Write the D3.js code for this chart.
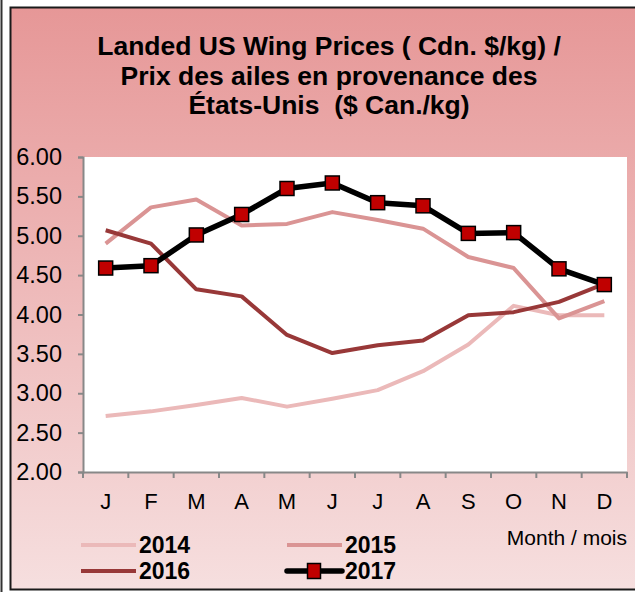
<!DOCTYPE html>
<html>
<head>
<meta charset="utf-8">
<script src="https://cdn.jsdelivr.net/npm/d3@7/dist/d3.min.js"></script>
<style>
  body { margin: 0; background: #fff; }
  text { font-family: "Liberation Sans", Arial, sans-serif; white-space: pre; }
</style>
</head>
<body>
<svg id="chart" width="635" height="592"></svg>
<script>
  // data
  var months = ['J', 'F', 'M', 'A', 'M', 'J', 'J', 'A', 'S', 'O', 'N', 'D'];
  var yTicks = [2.0, 2.5, 3.0, 3.5, 4.0, 4.5, 5.0, 5.5, 6.0];
  var titleLines = ['Landed US Wing Prices ( Cdn. $/kg) /', 'Prix des ailes en provenance des', '\u00c9tats-Unis  ($ Can./kg)'];
  var v2014 = [2.71, 2.77, 2.85, 2.94, 2.83, 2.93, 3.04, 3.28, 3.62, 4.11, 3.99, 3.99];
  var v2015 = [4.90, 5.36, 5.46, 5.13, 5.15, 5.30, 5.20, 5.09, 4.73, 4.59, 3.95, 4.17];
  var v2016 = [5.07, 4.90, 4.32, 4.23, 3.74, 3.51, 3.61, 3.67, 3.99, 4.03, 4.16, 4.39];
  var v2017 = [4.59, 4.62, 5.01, 5.27, 5.60, 5.67, 5.42, 5.38, 5.03, 5.04, 4.58, 4.38];

  var series = [
    { name: '2014', values: v2014, color: '#ebb9b9', width: 4 },
    { name: '2015', values: v2015, color: '#da9494', width: 4 },
    { name: '2016', values: v2016, color: '#983838', width: 4 },
    { name: '2017', values: v2017, color: '#000000', width: 5.5, marker: true }
  ];

  var svg = d3.select('#chart');

  function label(x0, y0, str, size, opts) {
    opts = opts || {};
    return svg.append('text')
      .attr('x', x0).attr('y', y0)
      .attr('text-anchor', opts.anchor || 'start')
      .style('font-size', size + 'px')
      .style('font-weight', opts.bold ? 'bold' : 'normal')
      .attr('fill', '#000')
      .text(str);
  }

  // background gradient
  var grad = svg.append('defs').append('linearGradient')
    .attr('id', 'bg').attr('x1', 0).attr('y1', 0).attr('x2', 0).attr('y2', 1);
  grad.append('stop').attr('offset', '0%').attr('stop-color', '#e69797');
  grad.append('stop').attr('offset', '35%').attr('stop-color', '#ecb0b0');
  grad.append('stop').attr('offset', '100%').attr('stop-color', '#f6dfdf');

  svg.append('line').attr('x1', 1.5).attr('x2', 1.5).attr('y1', 0).attr('y2', 592)
    .attr('stroke', '#333').attr('stroke-width', 2);
  svg.append('rect').attr('x', 10.5).attr('y', 7.5).attr('width', 640).attr('height', 582)
    .attr('fill', 'url(#bg)').attr('stroke', '#1a1a1a').attr('stroke-width', 2);

  var plot = { left: 83, right: 627, top: 157, bottom: 472 };

  var x = d3.scaleBand().domain(d3.range(12)).range([plot.left, plot.right]);
  var y = d3.scaleLinear().domain([2, 6]).range([plot.bottom, plot.top]);

  svg.append('rect').attr('x', plot.left).attr('y', plot.top)
    .attr('width', plot.right - plot.left).attr('height', plot.bottom - plot.top)
    .attr('fill', '#fff');

  // title
  titleLines.forEach((t, i) => {
    label(329, 55 + i * 29.5, t, 26.5, { anchor: 'middle', bold: true });
  });

  // y axis
  var yAxis = svg.append('g').attr('transform', 'translate(' + plot.left + ',0)')
    .call(d3.axisLeft(y).tickValues(yTicks).tickFormat('').tickSize(5));
  yAxis.select('.domain').attr('stroke', '#888').attr('stroke-width', 2);
  yAxis.selectAll('.tick line').attr('stroke', '#888').attr('stroke-width', 2);
  yTicks.forEach(v => {
    label(62, y(v) + 8, d3.format('.2f')(v), 23.5, { anchor: 'end' });
  });

  // x axis
  var xAxis = svg.append('g').attr('transform', 'translate(0,' + plot.bottom + ')')
    .call(d3.axisBottom(x).tickValues([]).tickSizeOuter(0));
  xAxis.select('.domain').attr('stroke', '#888').attr('stroke-width', 2);
  xAxis.selectAll('.edge').data(d3.range(13)).enter().append('line')
    .attr('x1', i => plot.left + i * x.step()).attr('x2', i => plot.left + i * x.step())
    .attr('y1', 0).attr('y2', 6).attr('stroke', '#888').attr('stroke-width', 2);
  months.forEach((m, i) => {
    label(x(i) + x.bandwidth() / 2, 509, m, 22, { anchor: 'middle' });
  });

  var line = d3.line().x((d, i) => x(i) + x.bandwidth() / 2).y(d => y(d));

  series.forEach(s => {
    svg.append('path').datum(s.values).attr('d', line)
      .attr('fill', 'none').attr('stroke', s.color).attr('stroke-width', s.width)
      .attr('stroke-linejoin', 'round');
    if (s.marker) {
      svg.selectAll('.mk').data(s.values).enter().append('rect')
        .attr('x', (d, i) => x(i) + x.bandwidth() / 2 - 7).attr('y', d => y(d) - 7)
        .attr('width', 14).attr('height', 14)
        .attr('fill', '#c00000').attr('stroke', '#000').attr('stroke-width', 1.5);
    }
  });

  // legend
  var legPos = [[81, 545], [287, 545], [81, 571], [287, 571]];
  series.forEach((s, i) => {
    var p = legPos[i];
    var g = svg.append('g').attr('transform', 'translate(' + p[0] + ',' + p[1] + ')');
    g.append('line').attr('x1', 0).attr('x2', 55).attr('y1', 0).attr('y2', 0)
      .attr('stroke', s.color).attr('stroke-width', s.width)
      .attr('stroke-linecap', s.marker ? 'round' : 'butt');
    if (s.marker) {
      g.append('rect').attr('x', 20.5).attr('y', -7.5).attr('width', 13).attr('height', 15)
        .attr('fill', '#c00000').attr('stroke', '#000').attr('stroke-width', 1.5);
    }
    label(p[0] + 58, p[1] + 8, s.name, 23, { bold: true });
  });

  label(627, 545, 'Month / mois', 21, { anchor: 'end' });
</script>
</body>
</html>
